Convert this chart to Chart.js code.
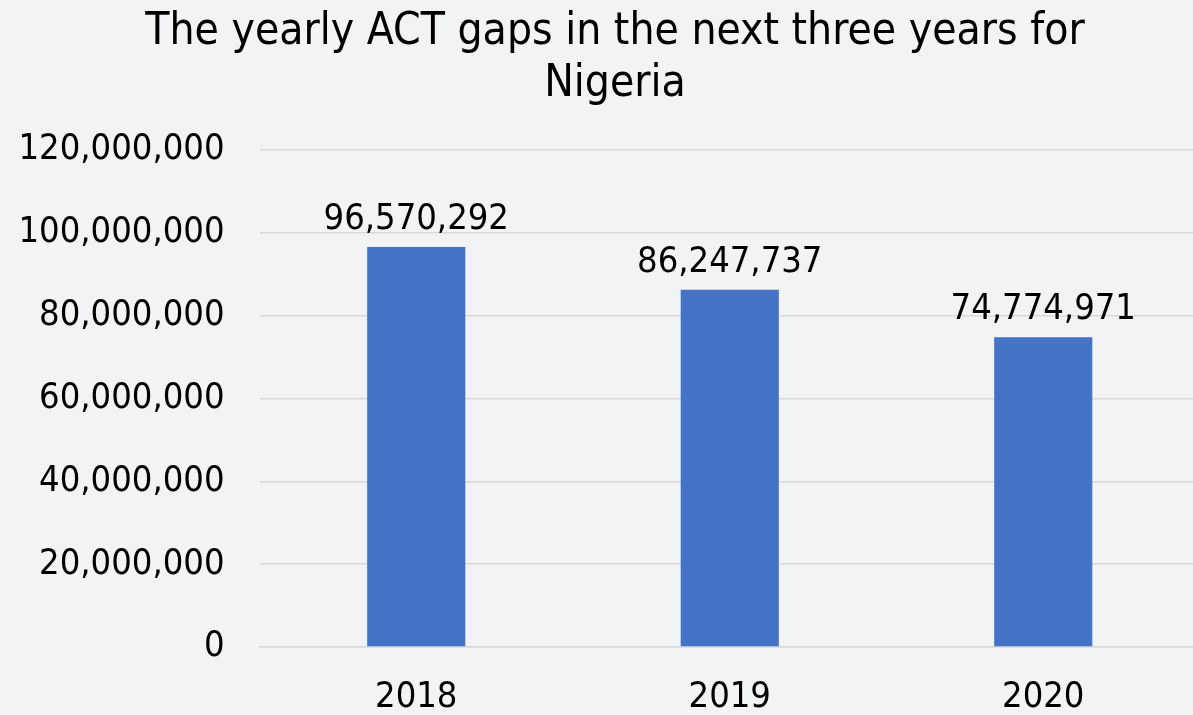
<!DOCTYPE html>
<html>
<head>
<meta charset="utf-8">
<script src="https://cdn.jsdelivr.net/npm/chart.js@4/dist/chart.umd.min.js"></script>
<style>
  html, body { margin: 0; padding: 0; background: #f2f3f5; overflow: hidden; }
  canvas { display: block; }
</style>
</head>
<body>
<canvas id="gapChart" width="1200" height="715"></canvas>
<script>
const years = ['2018', '2019', '2020'];
const gaps = [96570292, 86247737, 74774971];
const titleLines = ['The yearly ACT gaps in the next three years for', 'Nigeria'];

const FONT = "'DejaVu Sans Condensed', 'Liberation Sans', sans-serif";

// draws the value above each bar
const valueLabels = {
    id: 'valueLabels',
    afterDatasetsDraw(chart) {
        const ctx = chart.ctx;
        const meta = chart.getDatasetMeta(0);
        ctx.save();
        ctx.font = '36px ' + FONT;
        ctx.fillStyle = '#000';
        ctx.textAlign = 'center';
        ctx.textBaseline = 'alphabetic';
        meta.data.forEach((bar, i) => {
            ctx.fillText(gaps[i].toLocaleString('en-US'), bar.x, bar.y - 18);
        });
        ctx.restore();
    }
};

// the original title sits a little right of the canvas centre
const nudgeTitle = {
    id: 'nudgeTitle',
    afterLayout(chart) {
        if (chart.titleBlock) chart.titleBlock.left += 30;
    }
};

new Chart(document.getElementById('gapChart'), {
    type: 'bar',
    data: {
        labels: years,
        datasets: [{
            data: gaps,
            backgroundColor: '#4472c4',
            categoryPercentage: 1,
            barPercentage: 0.313
        }]
    },
    options: {
        responsive: false,
        animation: false,
        layout: { padding: 0 },
        plugins: {
            legend: { display: false },
            tooltip: { enabled: false },
            title: {
                display: true,
                text: titleLines,
                color: '#000',
                font: { family: FONT, size: 44, weight: 'normal', lineHeight: 1.17 },
                padding: { top: 7, bottom: 40 }
            }
        },
        scales: {
            x: {
                grid: { display: false, drawTicks: false },
                border: { display: true, color: '#d9d9d9', width: 1.5 },
                ticks: {
                    color: '#000',
                    padding: 29,
                    font: { family: FONT, size: 36 }
                },
                afterFit(scale) { scale.height = 68; }
            },
            y: {
                min: 0,
                max: 120000000,
                grid: { color: '#d9d9d9', lineWidth: 1.5, drawTicks: false },
                border: { display: false },
                ticks: {
                    stepSize: 20000000,
                    color: '#000',
                    padding: 35,
                    font: { family: FONT, size: 36 },
                    callback: v => v.toLocaleString('en-US')
                },
                afterFit(scale) { scale.width = 259.5; }
            }
        }
    },
    plugins: [valueLabels, nudgeTitle]
});
</script>
</body>
</html>
